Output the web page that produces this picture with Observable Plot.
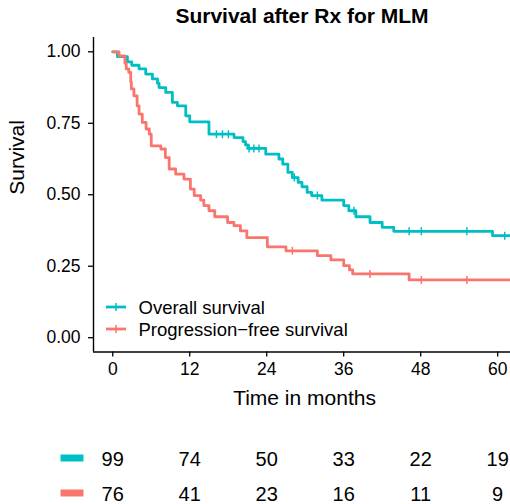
<!DOCTYPE html>
<html>
<head>
<meta charset="utf-8">
<script src="https://cdn.jsdelivr.net/npm/d3@7"></script>
<script src="https://cdn.jsdelivr.net/npm/@observablehq/plot@0.6"></script>
<style>
  html, body { margin: 0; padding: 0; background: white; }
  svg { display: block; }
</style>
</head>
<body>
<div id="chart"></div>
<script>
const strata = ["Overall survival", "Progression\u2212free survival"];
const colors = ["#00BFC4", "#F8766D"];

// Overall survival step curve (time in months, survival after step)
const osTime = [0, 0.73, 2.29, 2.96, 4.10, 5.14, 6.19, 6.97, 7.22, 8.26, 9.30, 10.08, 11.38, 12.0, 15.0, 18.9, 20.3, 20.7, 21.1, 23.85, 25.9, 26.5, 27.3, 28.0, 28.9, 29.5, 30.3, 31.0, 32.6, 36.0, 36.8, 37.9, 40.1, 42.0, 43.8, 59.2, 62.0];
const osSurv = [1, 0.983, 0.965, 0.953, 0.94, 0.922, 0.905, 0.89, 0.875, 0.858, 0.823, 0.811, 0.776, 0.755, 0.712, 0.70, 0.686, 0.674, 0.662, 0.642, 0.625, 0.607, 0.578, 0.560, 0.543, 0.528, 0.508, 0.497, 0.481, 0.462, 0.444, 0.423, 0.403, 0.386, 0.372, 0.357, 0.357];
const osCensorTime = [16.16, 17.10, 18.03, 21.25, 22.0, 22.8, 28.3, 31.9, 37.6, 46.2, 48.1, 55.2, 61.1];
const osCensorSurv = [0.712, 0.712, 0.712, 0.662, 0.662, 0.662, 0.560, 0.497, 0.444, 0.372, 0.372, 0.372, 0.357];

// Progression-free survival step curve
const pfsTime = [0, 0.98, 1.9, 2.1, 2.5, 2.8, 2.9, 3.3, 3.8, 4.1, 4.6, 5.2, 5.7, 6.0, 7.5, 8.2, 8.8, 9.8, 11.1, 12.1, 12.7, 13.7, 14.2, 15.0, 15.9, 17.9, 18.9, 19.9, 20.9, 24.1, 27.0, 31.9, 34.0, 36.0, 36.9, 37.4, 46.2, 62.0];
const pfsSurv = [1, 0.986, 0.96, 0.94, 0.928, 0.895, 0.870, 0.846, 0.811, 0.782, 0.753, 0.730, 0.712, 0.671, 0.66, 0.63, 0.59, 0.572, 0.555, 0.52, 0.497, 0.481, 0.462, 0.444, 0.423, 0.403, 0.392, 0.374, 0.350, 0.318, 0.304, 0.287, 0.272, 0.252, 0.237, 0.223, 0.202, 0.202];
const pfsCensorTime = [28.0, 40.1, 48.1, 55.2];
const pfsCensorSurv = [0.304, 0.223, 0.202, 0.202];

// Number at risk table
const riskTimes = [0, 12, 24, 36, 48, 60];
const osRisk = [99, 74, 50, 33, 22, 19];
const pfsRisk = [76, 41, 23, 16, 11, 9];

const xTicks = [0, 12, 24, 36, 48, 60];
const yTicks = [0, 0.25, 0.5, 0.75, 1];
const title = "Survival after Rx for MLM";
const xLabel = "Time in months";
const yLabel = "Survival";

// ---- build tables ----
const curves = [
  ...osTime.map((t, i) => ({strata: strata[0], time: t, surv: osSurv[i]})),
  ...pfsTime.map((t, i) => ({strata: strata[1], time: t, surv: pfsSurv[i]}))
];
const censors = [
  ...osCensorTime.map((t, i) => ({strata: strata[0], time: t, surv: osCensorSurv[i]})),
  ...pfsCensorTime.map((t, i) => ({strata: strata[1], time: t, surv: pfsCensorSurv[i]}))
];
const riskRows = [
  ...riskTimes.map((t, i) => ({strata: strata[0], time: t, n: osRisk[i]})),
  ...riskTimes.map((t, i) => ({strata: strata[1], time: t, n: pfsRisk[i]}))
];

// custom symbols
const plusSym = {draw(ctx) { ctx.moveTo(0, -4); ctx.lineTo(0, 4); ctx.moveTo(-3, 0); ctx.lineTo(3, 0); }};
const keyLineSym = {draw(ctx) { ctx.moveTo(-10, 0); ctx.lineTo(10, 0); }};
const keyTickSym = {draw(ctx) { ctx.moveTo(0, -4); ctx.lineTo(0, 4); }};
const rectSym = {draw(ctx) { ctx.rect(-11.5, -3.5, 23, 7); }};

const font = "'Liberation Sans', Arial, Helvetica, sans-serif";
const xDomain = [-3, 62];

const legendMarks = strata.flatMap((s, i) => [
  Plot.dot([s], {frameAnchor: "bottom-left", dx: 22.5, dy: -45 + i * 22, symbol: keyLineSym, stroke: d => d, fill: "none", strokeWidth: 2.8}),
  Plot.dot([s], {frameAnchor: "bottom-left", dx: 22.5, dy: -45 + i * 22, symbol: keyTickSym, stroke: d => d, fill: "none", strokeWidth: 1.5}),
  Plot.text([s], {frameAnchor: "bottom-left", lineAnchor: "middle", dx: 45, dy: -44 + i * 22, text: d => d, textAnchor: "start", fontSize: 18.5, fill: "black"})
]);

const main = Plot.plot({
  width: 510,
  height: 415,
  marginLeft: 93,
  marginRight: 0,
  marginTop: 37,
  marginBottom: 63.5,
  style: {fontFamily: font, fontSize: "17.5px", color: "black", background: "white"},
  x: {domain: xDomain},
  y: {domain: [-0.05, 1.05]},
  color: {domain: strata, range: colors},
  marks: [
    Plot.axisX({ticks: xTicks, tickSize: 5, tickPadding: 6, label: null, tickFormat: d => String(d), strokeWidth: 1.3}),
    Plot.axisY({ticks: yTicks, tickSize: 5, tickPadding: 8, label: null, tickFormat: d3.format(".2f"), strokeWidth: 1.3}),
    Plot.ruleX([xDomain[0]], {stroke: "black", strokeWidth: 1.4}),
    Plot.ruleY([-0.05], {stroke: "black", strokeWidth: 1.4}),
    Plot.line(curves, {x: "time", y: "surv", z: "strata", stroke: "strata", curve: "step-after", strokeWidth: 2.8}),
    Plot.dot(censors, {x: "time", y: "surv", stroke: "strata", symbol: plusSym, fill: "none", strokeWidth: 1.5}),
    ...legendMarks,
    Plot.text([title], {frameAnchor: "top", lineAnchor: "middle", dy: -21, text: d => d, fontSize: 21, fontWeight: "bold", fill: "black"}),
    Plot.text([xLabel], {frameAnchor: "bottom", lineAnchor: "middle", dx: 2.5, dy: 46.5, text: d => d, fontSize: 21, fill: "black"}),
    Plot.text([yLabel], {frameAnchor: "left", lineAnchor: "middle", dx: -76, rotate: -90, text: d => d, fontSize: 21, fill: "black"})
  ]
});

const risk = Plot.plot({
  width: 510,
  height: 89,
  marginLeft: 93,
  marginRight: 0,
  marginTop: 0,
  marginBottom: 0,
  style: {fontFamily: font, fontSize: "20px", color: "black", background: "white"},
  x: {domain: xDomain, axis: null},
  y: {type: "point", domain: strata, range: [43.5, 78.5], padding: 0, axis: null},
  color: {domain: strata, range: colors},
  marks: [
    Plot.text(riskRows, {x: "time", y: "strata", text: d => String(d.n), fontSize: 20, fill: "black"}),
    Plot.dot(strata, {y: d => d, frameAnchor: "left", dx: -21.5, dy: -1.5, symbol: rectSym, fill: d => d, stroke: "none"})
  ]
});

const root = document.getElementById("chart");
root.appendChild(main);
root.appendChild(risk);
</script>
</body>
</html>
